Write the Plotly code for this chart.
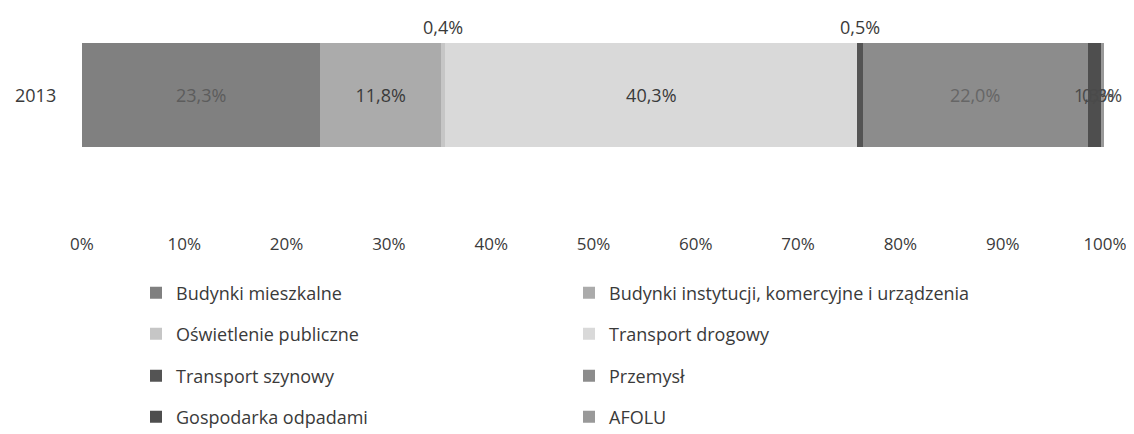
import plotly.graph_objects as go

categories = ["2013"]
series_names = [
    "Budynki mieszkalne",
    "Budynki instytucji, komercyjne i urządzenia",
    "Oświetlenie publiczne",
    "Transport drogowy",
    "Transport szynowy",
    "Przemysł",
    "Gospodarka odpadami",
    "AFOLU",
]
series_values = [23.3, 11.8, 0.4, 40.3, 0.5, 22.0, 1.3, 0.3]
series_labels = ["23,3%", "11,8%", "0,4%", "40,3%", "0,5%", "22,0%", "1,3%", "0,3%"]
tick_values = [0, 10, 20, 30, 40, 50, 60, 70, 80, 90, 100]
tick_labels = ["0%", "10%", "20%", "30%", "40%", "50%", "60%", "70%", "80%", "90%", "100%"]

colors = ["#808080", "#ababab", "#c6c6c6", "#d9d9d9", "#545454", "#8c8c8c", "#4e4e4e", "#999999"]
text_colors = ["#5c5c5c", "#3a3a3a", "#3a3a3a", "#3a3a3a", "#3a3a3a", "#666666", "#4a4a4a", "#4a4a4a"]
# label placement: 'in' = inside bar via bar text, 'above' = annotation above bar, 'over' = annotation on bar centre
label_mode = ["in", "in", "above", "in", "above", "in", "over", "over"]
legend_ids = ["legend", "legend", "legend2", "legend2", "legend3", "legend3", "legend4", "legend4"]

FONT = "Open Sans"
W, H = 1126, 426  # page body adds an 8px offset
fig = go.Figure()

cum = 0.0
for i, name in enumerate(series_names):
    v = series_values[i]
    fig.add_trace(go.Bar(
        y=[0], x=[v], orientation="h", name=name,
        marker=dict(color=colors[i], line=dict(width=0)),
        width=0.8,
        text=[series_labels[i]] if label_mode[i] == "in" else [""],
        textposition="inside", insidetextanchor="middle",
        constraintext="none",
        textfont=dict(family=FONT, size=18, color=text_colors[i]),
        legend=legend_ids[i],
        hoverinfo="skip",
    ))
    if label_mode[i] == "above":
        fig.add_annotation(
            x=cum + v / 2, y=0.4, xref="x", yref="y",
            text=series_labels[i], showarrow=False, yanchor="bottom", yshift=2,
            font=dict(family=FONT, size=18, color="#3a3a3a"),
        )
    elif label_mode[i] == "over":
        fig.add_annotation(
            x=cum + v / 2, y=0, xref="x", yref="y",
            text=series_labels[i], showarrow=False,
            font=dict(family=FONT, size=18, color=text_colors[i]),
        )
    cum += v

# category label
fig.add_annotation(
    x=0, y=0, xref="paper", yref="y", xanchor="right", xshift=-24,
    text=categories[0], showarrow=False,
    font=dict(family=FONT, size=18, color="#3a3a3a"),
)

leg_common = dict(orientation="h", xref="container", yref="container",
                  x=128 / W, xanchor="left", yanchor="middle",
                  entrywidth=388, entrywidthmode="pixels", itemwidth=30,
                  font=dict(family=FONT, size=18, color="#3a3a3a"),
                  bgcolor="rgba(0,0,0,0)", traceorder="normal")
row_y = [285, 326, 368, 409]

fig.update_layout(
    width=W, height=H,
    margin=dict(l=74, r=29, t=12, b=202, autoexpand=False),
    paper_bgcolor="white", plot_bgcolor="white",
    barmode="stack", bargap=0.2,
    showlegend=True,
    legend=dict(**leg_common, y=1 - row_y[0] / H),
    legend2=dict(**leg_common, y=1 - row_y[1] / H),
    legend3=dict(**leg_common, y=1 - row_y[2] / H),
    legend4=dict(**leg_common, y=1 - row_y[3] / H),
    xaxis=dict(range=[0, 100], tickvals=tick_values, ticktext=tick_labels,
               showgrid=False, zeroline=False, showline=False, ticks="",
               automargin=False,
               tickfont=dict(family=FONT, size=17, color="#3a3a3a")),
    yaxis=dict(range=[-1.054, 0.577], showticklabels=False, showgrid=False,
               zeroline=False, showline=False, ticks="", automargin=False),
)

fig.write_html("out.html")
